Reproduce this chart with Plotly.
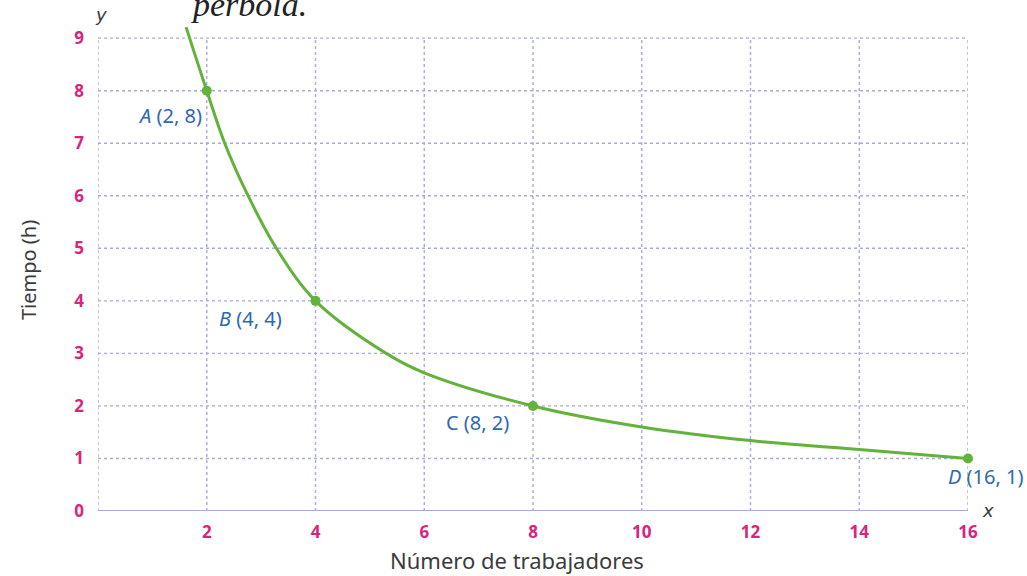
import plotly.graph_objects as go

# Curve through the measured points (workers vs. hours)
curve_x = [1.62, 2, 2.33, 2.76, 3.28, 4, 5.3, 6, 8, 10, 12, 14, 16]
curve_y = [9.21, 8, 7, 6, 5, 4, 3, 2.63, 2, 1.6, 1.34, 1.17, 1]

# Labelled points
point_names = ["A", "B", "C", "D"]
point_x = [2, 4, 8, 16]
point_y = [8, 4, 2, 1]

x_ticks = [2, 4, 6, 8, 10, 12, 14, 16]
y_ticks = [0, 1, 2, 3, 4, 5, 6, 7, 8, 9]

GREEN = "#62b23b"
GRID = "#a9abd8"
PINK = "#d8247d"
BLUE = "#2f68b0"
DARK = "#3b3b3b"
FONT = "Noto Sans"

fig = go.Figure()

fig.add_trace(go.Scatter(
    x=curve_x, y=curve_y, mode="lines",
    line=dict(color=GREEN, width=3, shape="spline", smoothing=1.0),
    hoverinfo="skip", showlegend=False,
))
fig.add_trace(go.Scatter(
    x=point_x, y=point_y, mode="markers",
    marker=dict(color=GREEN, size=10),
    showlegend=False, cliponaxis=False,
))

# Dotted grid
shapes = []
for gx in [0] + x_ticks:
    shapes.append(dict(type="line", xref="x", yref="y", x0=gx, x1=gx, y0=0, y1=9,
                       line=dict(color=GRID, width=1.4, dash="dot"), layer="below"))
for gy in y_ticks[1:]:
    shapes.append(dict(type="line", xref="x", yref="y", x0=0, x1=16, y0=gy, y1=gy,
                       line=dict(color=GRID, width=1.4, dash="dot"), layer="below"))
# x axis baseline
shapes.append(dict(type="line", xref="x", yref="y", x0=0, x1=16, y0=0, y1=0,
                   line=dict(color=GRID, width=2), layer="below"))

# Point labels
label_pos = {
    "A": dict(x=204, y=115, xanchor="right"),
    "B": dict(x=217, y=318, xanchor="left"),
    "C": dict(x=444, y=423, xanchor="left"),
    "D": dict(x=946, y=476, xanchor="left"),
}

W, H = 1027, 576
ML, MR, MT, MB = 98, 59, 25, 65
pw, ph = W - ML - MR, H - MT - MB


def px_to_paper(px, py):
    return (px - ML) / pw, (H - MB - py) / ph


annotations = []
for name, xv, yv in zip(point_names, point_x, point_y):
    letter = name if name == "C" else f"<i>{name}</i>"
    pos = label_pos[name]
    ax, ay = px_to_paper(pos["x"], pos["y"])
    annotations.append(dict(
        xref="paper", yref="paper", x=ax, y=ay, xanchor=pos["xanchor"], yanchor="middle",
        text=f"{letter} ({xv}, {yv})", showarrow=False,
        font=dict(family=FONT, size=20, color=BLUE),
    ))

# Axis titles and variable names
for text, px, py, size, angle, fam in [
    ("Tiempo (h)", 28, 270, 20, -90, FONT),
    ("Número de trabajadores", 517, 560, 22, 0, FONT),
    ("<i>y</i>", 101, 14, 18, 0, "DejaVu Sans"),
    ("<i>x</i>", 988, 510, 18, 0, "DejaVu Sans"),
]:
    ax, ay = px_to_paper(px, py)
    annotations.append(dict(
        xref="paper", yref="paper", x=ax, y=ay, xanchor="center", yanchor="middle",
        text=text, textangle=angle, showarrow=False,
        font=dict(family=fam, size=size, color=DARK),
    ))

# Running text above the chart
ax, ay = px_to_paper(249, 4)
annotations.append(dict(
    xref="paper", yref="paper", x=ax, y=ay, xanchor="center", yanchor="middle",
    text="<i>pérbola.</i>", showarrow=False,
    font=dict(family="Liberation Serif", size=34, color="#222222"),
))

fig.update_layout(
    width=W, height=H,
    margin=dict(l=ML, r=MR, t=MT, b=MB),
    paper_bgcolor="white", plot_bgcolor="white",
    shapes=shapes, annotations=annotations,
    xaxis=dict(
        range=[0, 16], tickvals=x_ticks, ticktext=[str(v) for v in x_ticks],
        showgrid=False, zeroline=False, showline=False, ticks="",
        ticklabelstandoff=9,
        tickfont=dict(family=FONT, size=17, color=PINK, weight="bold"),
    ),
    yaxis=dict(
        range=[0, 9.25], tickvals=y_ticks, ticktext=[str(v) for v in y_ticks],
        showgrid=False, zeroline=False, showline=False, ticks="",
        ticklabelstandoff=13,
        tickfont=dict(family=FONT, size=17, color=PINK, weight="bold"),
    ),
)

fig.write_html("out.html")
